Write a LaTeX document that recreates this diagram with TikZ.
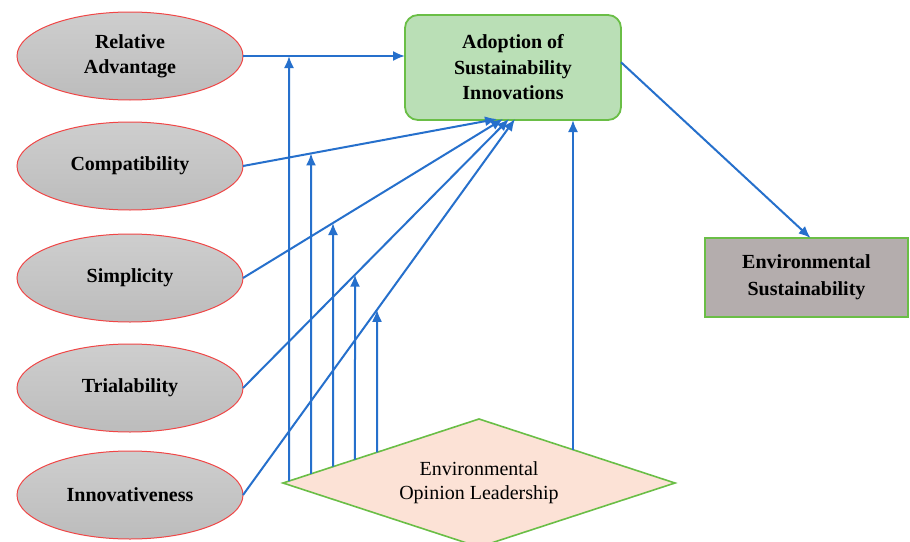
\documentclass[tikz,border=0pt]{standalone}
\usepackage{fontspec}
\setmainfont{Liberation Serif}
\usetikzlibrary{shapes.geometric,arrows.meta,calc}
\definecolor{arrowblue}{RGB}{38,112,204}
\definecolor{boxgreen}{RGB}{106,190,70}
\definecolor{greenfill}{RGB}{186,223,182}
\definecolor{envfill}{RGB}{180,173,173}
\definecolor{peach}{RGB}{252,226,214}
\definecolor{ellred}{RGB}{240,70,70}
\tikzset{
  factor/.style={ellipse, draw=ellred, line width=1pt, top color={rgb,255:red,206;green,206;blue,206},
    bottom color={rgb,255:red,188;green,188;blue,188}, minimum width=226pt, minimum height=88pt,
    inner sep=0pt, outer sep=0pt, font=\fontsize{20}{25}\selectfont\bfseries, align=center},
  adoptbox/.style={rectangle, rounded corners=13pt, draw=boxgreen, line width=1.8pt, fill=greenfill,
    minimum width=216pt, minimum height=105pt, inner sep=0pt, outer sep=0pt,
    font=\fontsize{20}{25.5}\selectfont\bfseries, align=center},
  envbox/.style={rectangle, draw=boxgreen, line width=1.8pt, fill=envfill,
    minimum width=203pt, minimum height=79pt, inner sep=0pt, outer sep=0pt,
    font=\fontsize{20}{27}\selectfont\bfseries, align=center},
  leader/.style={diamond, draw=boxgreen, line width=1.6pt, fill=peach, aspect=3.06,
    minimum width=392pt, minimum height=128pt, inner sep=0pt, outer sep=0pt,
    font=\fontsize{20}{24}\selectfont, align=center},
  link/.style={draw=arrowblue, line width=2pt, -{Latex[length=12pt,width=10pt]}}
}
\begin{document}
\begin{tikzpicture}[x=1pt,y=-1pt]
\clip (0,0) rectangle (910,541);
\fill[white] (0,0) rectangle (910,541);
% factors
\node[factor] (ra) at (130,56) {Relative\\Advantage};
\node[factor] (comp) at (130,166) {Compatibility};
\node[factor] (simp) at (130,278) {Simplicity};
\node[factor] (trial) at (130,388) {Trialability};
\node[factor] (innov) at (130,495) {Innovativeness};
% main boxes
\node[adoptbox] (ad) at (513,67.5) {Adoption of\\Sustainability\\Innovations};
\node[envbox] (env) at (806.5,277.5) {Environmental\\Sustainability};
\node[leader] (dia) at (479,483) {Environmental\\Opinion Leadership};
% targets on adoption box
\coordinate (tc) at (497,119);
\coordinate (ts) at (503,119);
\coordinate (tt) at (509,119);
\coordinate (ti) at (515,119);
% moderator starts on diamond edge
\coordinate (m1) at ($(dia.west)!0.0306!(dia.north)$);
\coordinate (m2) at ($(dia.west)!0.1429!(dia.north)$);
\coordinate (m3) at ($(dia.west)!0.2551!(dia.north)$);
\coordinate (m4) at ($(dia.west)!0.3673!(dia.north)$);
\coordinate (m5) at ($(dia.west)!0.4796!(dia.north)$);
\coordinate (m6) at ($(dia.north)!0.4796!(dia.east)$);
% moderator ends on the paths
\coordinate (e1) at (289,56);
\coordinate (e2) at (311,153.4);
\coordinate (e3) at (333,223.0);
\coordinate (e4) at (355,274.7);
\coordinate (e5) at (377,309.8);
% direct links
\draw[link] (ra.east) -- (ad.west |- ra.east);
\draw[link] (comp.east) -- (tc);
\draw[link] (simp.east) -- (ts);
\draw[link] (trial.east) -- (tt);
\draw[link] (innov.east) -- (ti);
% moderating links
\draw[link] (m1) -- (e1);
\draw[link] (m2) -- (e2);
\draw[link] (m3) -- (e3);
\draw[link] (m4) -- (e4);
\draw[link] (m5) -- (e5);
\draw[link] (m6) -- (m6 |- ad.south);
% outcome
\draw[link] ($(ad.north east)!0.45!(ad.south east)$) -- ($(env.north west)!0.52!(env.north east)$);
\end{tikzpicture}
\end{document}
